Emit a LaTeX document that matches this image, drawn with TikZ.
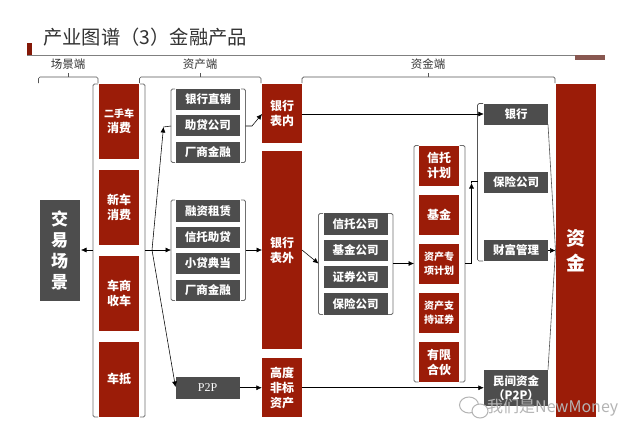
\documentclass[tikz,border=0pt]{standalone}
\usepackage{fontspec}
\setmainfont{Noto Sans CJK SC}
\newfontfamily\serifen{Liberation Serif}
\usetikzlibrary{arrows.meta,calc}
\definecolor{dkred}{HTML}{9B1C08}
\definecolor{dkgrey}{HTML}{4D4D4D}
\definecolor{lnc}{HTML}{555555}
\definecolor{brc}{HTML}{707070}
\definecolor{wm}{HTML}{B4B4B4}
\tikzset{
  x=1pt,y=-1pt,
  redbox/.style={fill=dkred,text=white,font=\bfseries\fontsize{12}{15}\selectfont,align=center,inner sep=0pt},
  greybox/.style={fill=dkgrey,text=white,font=\bfseries\fontsize{11.5}{14}\selectfont,align=center,inner sep=0pt},
  smallred/.style={font=\bfseries\fontsize{10}{14.5}\selectfont},
  bigtext/.style={font=\bfseries\fontsize{17}{21}\selectfont},
  hugetext/.style={font=\bfseries\fontsize{19}{25}\selectfont},
  wire/.style={draw=black,line width=.55pt},
  arr/.style={wire,-{Latex[length=5.5pt,width=5pt]}},
  brk/.style={draw=brc,line width=.9pt,rounded corners=1.5pt},
  hbrk/.style={draw=lnc,line width=.7pt,rounded corners=1.5pt},
  hd/.style={font=\fontsize{11.5}{13}\selectfont,text=black!80,inner sep=0pt},
}
\newcommand{\rbox}[7][]{\node[redbox,#1,minimum width=#4-#3,minimum height=#6-#5] (#2) at ({(#3+#4)/2},{(#5+#6)/2}) {#7};}
\newcommand{\gbox}[7][]{\node[greybox,#1,minimum width=#4-#3,minimum height=#6-#5] (#2) at ({(#3+#4)/2},{(#5+#6)/2}) {#7};}
\begin{document}
\begin{tikzpicture}
\useasboundingbox (0,0) rectangle (623,423);
\fill[white] (0,0) rectangle (623,423);
% title
\node[anchor=west,inner sep=0pt,font=\fontsize{19.3}{21}\selectfont,text=black!80] (title) at (43,37) {产业图谱（3）金融产品};
\coordinate (ruleL) at (27,55.5);
\coordinate (ruleR) at (575,55.5);
\fill[dkred!85!black] (27,43) rectangle (32,55.5);
\draw[draw=black!50,line width=.8pt] (ruleL) -- (ruleR);
\fill[dkred!55!black!70] (575,55) rectangle (605,60);
% header braces
\node[hd] (h1) at (68,64.5) {场景端};
\node[hd] (h2) at (200,64.5) {资产端};
\node[hd] (h3) at (428,64.5) {资金端};
\draw[hbrk] (38.5,83) -- (38.5,77) -- (98,77) -- (98,83);
\draw[hbrk] (68.5,77) -- (68.5,73);
\draw[hbrk] (139.5,83) -- (139.5,77) -- (261,77) -- (261,83);
\draw[hbrk] (200.5,77) -- (200.5,73);
\draw[hbrk] (302,83) -- (302,77) -- (555,77) -- (555,83);
\draw[hbrk] (428.5,77) -- (428.5,73);
% scene
\gbox[bigtext]{scene}{39.5}{79.5}{200}{300.5}{交\\易\\场\\景}
% column 1
\rbox{a1}{99}{139}{84}{159}{{\fontsize{10}{14}\selectfont 二手车}\\消费}
\rbox{a2}{99}{139}{169.5}{245}{新车\\消费}
\rbox{a3}{99}{139}{255.5}{331}{车商\\收车}
\rbox{a4}{99}{139}{341.5}{417}{车抵}
\draw[brk] (98,84) -- (93,84) -- (93,417) -- (98,417);
\draw[brk] (140,84) -- (145,84) -- (145,417) -- (140,417);
\coordinate (colL) at (93,250);
\coordinate (colR) at (145,250);
\coordinate (fan) at (152,250);
% group 1
\gbox{b1}{176}{240}{89}{110}{银行直销}
\gbox{b2}{175.5}{240}{115}{136}{助贷公司}
\gbox{b3}{175.5}{240}{141.5}{162.5}{厂商金融}
\draw[brk] (175,89) -- (171,89) -- (171,162.5) -- (175,162.5);
\draw[brk] (241,89) -- (245.5,89) -- (245.5,162.5) -- (241,162.5);
\coordinate (g1L) at (171,126);
\coordinate (g1R) at (245.5,126);
% group 2
\gbox{c1}{176}{240}{200}{221.5}{融资租赁}
\gbox{c2}{175.5}{240}{226.5}{247.5}{信托助贷}
\gbox{c3}{175.5}{240}{253}{274}{小贷典当}
\gbox{c4}{175.5}{240}{279.5}{300.5}{厂商金融}
\draw[brk] (175,200) -- (171,200) -- (171,300.5) -- (175,300.5);
\draw[brk] (241,200) -- (245.5,200) -- (245.5,300.5) -- (241,300.5);
\coordinate (g2L) at (171,250);
\coordinate (g2R) at (245.5,250);
\gbox[font=\serifen\fontsize{12}{14}\selectfont]{p2p}{175.5}{239.5}{377}{398.5}{P2P}
% banks
\rbox{d1}{262}{302}{84}{142.5}{银行\\表内}
\rbox{d2}{262}{302}{151}{349}{银行\\表外}
\rbox{d3}{262}{302}{358}{417}{高度\\非标\\资产}
% group 3
\gbox{e1}{323.5}{387.5}{213}{234.5}{信托公司}
\gbox{e2}{323.5}{387.5}{239.5}{261}{基金公司}
\gbox{e3}{323.5}{387.5}{266}{287.5}{证券公司}
\gbox{e4}{323.5}{387.5}{293}{314.5}{保险公司}
\draw[brk] (323,213.5) -- (318.5,213.5) -- (318.5,314.5) -- (323,314.5);
\draw[brk] (388,213.5) -- (393,213.5) -- (393,314.5) -- (388,314.5);
\coordinate (g3L) at (318.5,263.5);
\coordinate (g3R) at (393,263.5);
% column 4
\rbox{f1}{419}{459}{145.5}{186}{信托\\计划}
\rbox{f2}{419}{459}{195}{235}{基金}
\rbox[smallred]{f3}{419}{459}{243.5}{284}{资产专\\项计划}
\rbox[smallred]{f4}{419}{459}{292.5}{333}{资产支\\持证券}
\rbox{f5}{419}{459}{342}{382}{有限\\合伙}
\draw[brk] (418.5,145.5) -- (414,145.5) -- (414,382) -- (418.5,382);
\draw[brk] (459.5,145.5) -- (465,145.5) -- (465,382) -- (459.5,382);
\coordinate (g4L) at (414,263.5);
\coordinate (g4R) at (465,263.5);
% funds
\gbox{g1}{484}{548}{103.5}{124.5}{银行}
\gbox{g2}{484}{548}{171.5}{193}{保险公司}
\gbox{g3}{484}{548}{240}{261}{财富管理}
\gbox{g4}{484}{548}{369.5}{406}{民间资金\\（P2P）}
\rbox[hugetext]{z}{556}{596}{84}{417}{资\\金}
\draw[hbrk] (483,103.5) -- (477.5,103.5) -- (477.5,261) -- (483,261);
\coordinate (g5L) at (477.5,181);
\coordinate (riser) at (471.5,183);
\coordinate (merge) at (555.5,250.5);
% connectors
\draw[arr] (colL) -- (81,250);
\draw[wire] (colR) -- (fan);
\draw[arr] (fan) -- (g2L);
\draw[arr] (fan) -- (163.5,127);
\draw[wire] (163.5,127) -- (g1L);
\draw[arr] (fan) -- (175.5,387);
\draw[arr] (g1R) -- (252,126) -- (262,114);
\draw[arr] (g2R) -- (262,250);
\draw[arr] (p2p) -- (d3.west |- p2p);
\draw[arr] (d1.east |- g1) -- (g1.west);
\draw[arr] (d3.east |- p2p) -- (g4.west |- p2p);
\draw[arr] (302,250) -- (318.5,263.5);
\draw[arr] (g3R) -- (g4L);
\draw[arr] (g4R) -- (471.5,263.5) -- (riser);
\draw[wire] (riser) -- (471.5,181) -- (g5L);
\draw[arr] (g3.east) -- (merge);
\draw[draw=lnc,line width=.6pt] (548,124.5) -- (merge);
\draw[draw=lnc,line width=.6pt] (548,369.5) -- (merge);
% watermark
\draw[wm,line width=1pt] (469,405) ellipse (9.5 and 8);
\draw[wm,line width=1pt,fill=white] (480,411) ellipse (8 and 7);
\node[anchor=west,inner sep=0pt,text=wm,font=\fontsize{16}{18}\selectfont] (mark) at (487,407.5) {我们是NewMoney};
\end{tikzpicture}
\end{document}
